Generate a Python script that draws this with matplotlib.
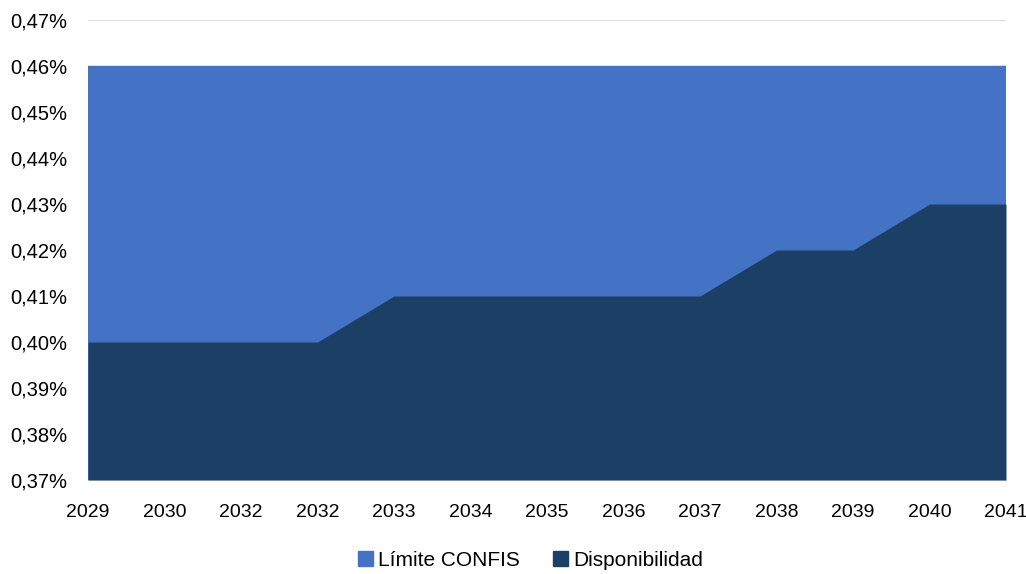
import matplotlib.pyplot as plt
import numpy as np
from matplotlib.ticker import FuncFormatter
from matplotlib.patches import Patch

plt.rcParams['font.family'] = ['Liberation Sans', 'DejaVu Sans']

# years shown on the axis (the label 2032 really appears twice)
anios = ['2029', '2030', '2032', '2032', '2033', '2034', '2035', '2036',
         '2037', '2038', '2039', '2040', '2041']
limite_confis = [0.46] * 13
disponibilidad = [0.40, 0.40, 0.40, 0.40, 0.41, 0.41, 0.41, 0.41,
                  0.41, 0.42, 0.42, 0.43, 0.43]

c_lim = '#4472C4'
c_disp = '#1C3F66'

fig = plt.figure(figsize=(10.26, 5.74), dpi=100)
ax = fig.add_axes([0.0858, 0.1638, 0.8947, 0.8012])

x = np.arange(len(anios))
ax.fill_between(x, 0.37, limite_confis, color=c_lim, lw=0, zorder=2)
ax.fill_between(x, 0.37, disponibilidad, color=c_disp, lw=0, zorder=3)

ax.set_xlim(0, len(anios) - 1)
ax.set_ylim(0.37, 0.47)
ax.set_yticks(np.arange(0.37, 0.4701, 0.01))
ax.yaxis.set_major_formatter(FuncFormatter(lambda v, p: f'{v:.2f}%'.replace('.', ',')))
ax.set_xticks(x)
ax.set_xticklabels(anios)

ax.grid(axis='y', color='#D9D9D9', lw=1.2, zorder=1)
for s in ['top', 'right', 'left']:
    ax.spines[s].set_visible(False)
ax.spines['bottom'].set_color('#D9D9D9')
ax.tick_params(length=0, colors='black')
ax.tick_params(axis='x', pad=17, labelsize=14)
ax.tick_params(axis='y', pad=15, labelsize=14.5)

handles = [Patch(color=c_lim, label='Límite CONFIS'),
           Patch(color=c_disp, label='Disponibilidad')]
fig.legend(handles=handles, loc='center', bbox_to_anchor=(0.517, 0.024),
           ncol=2, frameon=False, fontsize=15, handlelength=0.7,
           handleheight=0.7, handletextpad=0.25, columnspacing=1.6)

fig.savefig('out.png', dpi=100)
